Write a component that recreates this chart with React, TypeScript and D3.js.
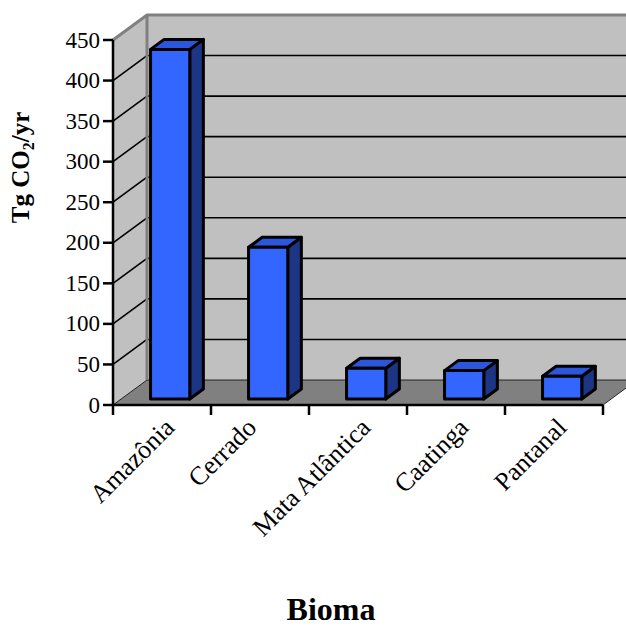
import * as d3 from "d3";

const categories = ["Amazônia", "Cerrado", "Mata Atlântica", "Caatinga", "Pantanal"];
const emissions = [431, 187, 38, 35, 28];
const yTicks = [0, 50, 100, 150, 200, 250, 300, 350, 400, 450];

const W = 626;
const H = 629;
const X0 = 113;
const X1 = 603;
const Y0 = 405;
const Y1 = 40;
const DEPTH = { dx: 34, dy: 25 };
const BAR_Z = [0.24, 0.64];
const FONT = "'Liberation Serif', 'Times New Roman', serif";
// Excel nudged this one label to the left
const LABEL_NUDGE: Record<string, number> = { Cerrado: -16 };

const x = d3.scaleBand().domain(categories).range([X0, X1]).paddingInner(0.6).paddingOuter(0.3);
const step = x.step();
const y = d3.scaleLinear().domain([0, 450]).range([Y0, Y1]);
const zx = d3.scaleLinear().domain([0, 1]).range([0, DEPTH.dx]);
const zy = d3.scaleLinear().domain([0, 1]).range([0, -DEPTH.dy]);

const pt = (px: number, py: number, z: number) => [px + zx(z), py + zy(z)] as [number, number];
const poly = (pts: [number, number][]) => pts.map((p) => p.join(",")).join(" ");

export default function App() {
  const back = pt(X0, Y1, 1);
  const xEndBack = X1 + DEPTH.dx;

  return (
    <svg width={W} height={H} style={{ position: "absolute", left: 0, top: 0, background: "#fff" }}>
      {/* side wall */}
      <polygon
        points={poly([pt(X0, Y1, 0), pt(X0, Y1, 1), pt(X0, Y0, 1), pt(X0, Y0, 0)])}
        fill="#c0c0c0"
      />
      {/* back wall */}
      <rect x={back[0]} y={back[1]} width={xEndBack - back[0] + 10} height={Y0 - Y1} fill="#c0c0c0" />
      {/* floor */}
      <polygon
        points={poly([pt(X0, Y0, 0), pt(X0, Y0, 1), pt(X1, Y0, 1), pt(X1, Y0, 0)])}
        fill="#808080"
        stroke="#000"
        strokeWidth={0.8}
      />

      {/* gridlines */}
      {yTicks.slice(1, -1).map((t) => {
        const a = pt(X0, y(t), 0);
        const b = pt(X0, y(t), 1);
        return (
          <g key={t}>
            <line x1={a[0]} y1={a[1]} x2={b[0]} y2={b[1]} stroke="#000" strokeWidth={1.6} />
            <line x1={b[0]} y1={b[1]} x2={xEndBack + 10} y2={b[1]} stroke="#000" strokeWidth={1.6} />
          </g>
        );
      })}

      {/* wall edges */}
      <polyline
        points={poly([pt(X0, Y1, 0), pt(X0, Y1, 1), [xEndBack + 10, back[1]]])}
        fill="none"
        stroke="#808080"
        strokeWidth={3}
      />
      <line x1={back[0]} y1={back[1]} x2={back[0]} y2={pt(X0, Y0, 1)[1]} stroke="#808080" strokeWidth={3} />

      {/* bars */}
      {categories.map((c, i) => {
        const v = emissions[i];
        const bx0 = x(c) ?? 0;
        const bx1 = bx0 + x.bandwidth();
        const f = BAR_Z[0];
        const r = BAR_Z[1];
        const front: [number, number][] = [pt(bx0, y(v), f), pt(bx1, y(v), f), pt(bx1, y(0), f), pt(bx0, y(0), f)];
        const top: [number, number][] = [pt(bx0, y(v), f), pt(bx0, y(v), r), pt(bx1, y(v), r), pt(bx1, y(v), f)];
        const side: [number, number][] = [pt(bx1, y(v), f), pt(bx1, y(v), r), pt(bx1, y(0), r), pt(bx1, y(0), f)];
        return (
          <g key={c} stroke="#000" strokeWidth={3} strokeLinejoin="round">
            <polygon points={poly(side)} fill="#1c3584" />
            <polygon points={poly(top)} fill="#2c56dc" />
            <polygon points={poly(front)} fill="#3366ff" />
          </g>
        );
      })}

      {/* axes */}
      <line x1={X0} y1={Y1} x2={X0} y2={Y0} stroke="#000" strokeWidth={2.5} />
      <line x1={X0} y1={Y0} x2={X1} y2={Y0} stroke="#000" strokeWidth={2.5} />
      {yTicks.map((t) => (
        <g key={t}>
          <line x1={X0 - 10} x2={X0} y1={y(t)} y2={y(t)} stroke="#000" strokeWidth={2.5} />
          <text
            x={X0 - 13}
            y={y(t)}
            textAnchor="end"
            dominantBaseline="central"
            fontFamily={FONT}
            fontSize={23}
          >
            {t}
          </text>
        </g>
      ))}
      {d3.range(categories.length + 1).map((i) => {
        const tx = X0 + i * step;
        return <line key={i} x1={tx} x2={tx} y1={Y0} y2={Y0 + 10} stroke="#000" strokeWidth={2.5} />;
      })}
      {categories.map((c) => {
        const cx = (x(c) ?? 0) + x.bandwidth() / 2 + (LABEL_NUDGE[c] ?? 0);
        return (
          <text
            key={c}
            transform={`translate(${cx + 14},${Y0 + 24}) rotate(-45)`}
            textAnchor="end"
            fontFamily={FONT}
            fontSize={26}
          >
            {c}
          </text>
        );
      })}

      {/* axis titles */}
      <text
        transform={`translate(29,${(Y0 + Y1) / 2 - 55}) rotate(-90)`}
        textAnchor="middle"
        fontFamily={FONT}
        fontWeight="bold"
        fontSize={25}
      >
        Tg CO
        <tspan fontSize={16} dy={5}>2</tspan>
        <tspan dy={-5}>/yr</tspan>
      </text>
      <text x={331} y={620} textAnchor="middle" fontFamily={FONT} fontWeight="bold" fontSize={32}>
        Bioma
      </text>
    </svg>
  );
}
